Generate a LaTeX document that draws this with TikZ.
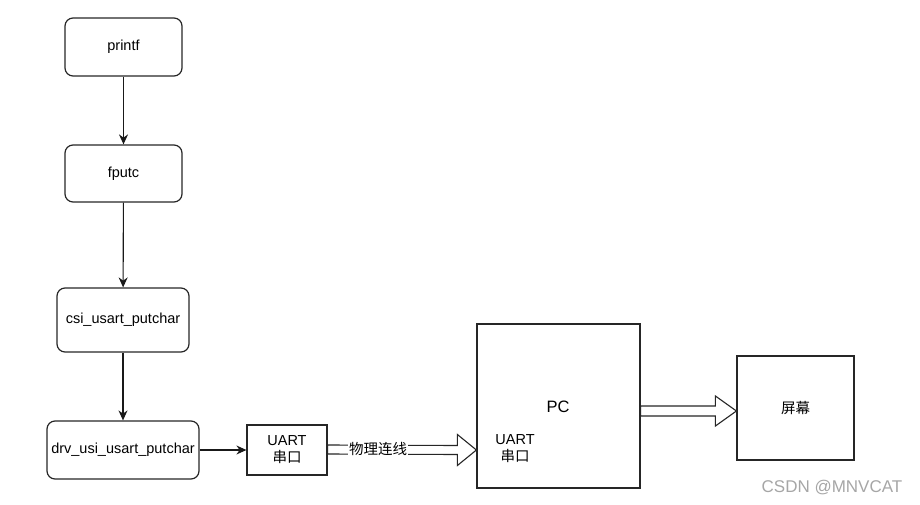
\documentclass[tikz,border=0pt]{standalone}
\usepackage{fontspec}
\setmainfont{Liberation Sans}
\newfontfamily\cjk{Noto Sans CJK SC}
\usetikzlibrary{arrows.meta,calc}
\begin{document}
\begin{tikzpicture}[x=1pt,y=-1pt,
  every node/.style={font=\fontsize{14.5pt}{17pt}\selectfont, text=black},
  rbox/.style={draw=black!85, line width=1.2pt, rounded corners=8pt, inner sep=0pt},
  sbox/.style={draw=black!85, line width=1.2pt, inner sep=0pt},
  conn/.style={draw=black!90, line width=1.1pt, -{Stealth[length=10pt,width=9pt]}},
  blockarrow/.style={draw=black!85, line width=1.1pt, fill=white, line join=miter}]
\useasboundingbox (0,0) rectangle (920,505);
\node[rbox, minimum width=117pt, minimum height=58pt] (printf) at (123.5,47) {printf};
\node[rbox, minimum width=117pt, minimum height=57pt] (fputc) at (123.5,173.5) {fputc};
\node[rbox, minimum width=132pt, minimum height=64pt] (csi) at (123,320) {csi\_usart\_putchar};
\node[rbox, minimum width=152pt, minimum height=58pt] (drv) at (123,450) {drv\_usi\_usart\_putchar};
\node[sbox, minimum width=80pt, minimum height=50pt, align=center] (uart) at (287,450) {UART\\{\cjk 串口}};
\node[sbox, minimum width=163pt, minimum height=164pt] (pc) at (558.5,406) {};
\node[font=\fontsize{16.5pt}{19pt}\selectfont] (pclabel) at (558,407) {PC};
\node[align=center] (pcuart) at (515,449) {UART\\{\cjk 串口}};
\node[sbox, minimum width=117pt, minimum height=104pt] (screen) at (795.5,408) {\cjk 屏幕};
\node[text=black!35, font=\fontsize{17pt}{19pt}\selectfont] (wm) at (832,488) {CSDN @MNVCAT};
\draw[conn] (printf) -- (fputc);
\draw[conn] (fputc) -- (csi);
\draw[conn] (csi) -- (drv);
\draw[conn] (drv) -- (uart);
% block arrow UART -> PC
\coordinate (a1s) at (uart.east |- 0,449.5);
\coordinate (a1t) at (pc.west |- 0,450);
\draw[blockarrow] ($(a1s)+(0,-4.5)$) -- ($(a1t)+(-19,-4.5)$) -- ($(a1t)+(-19,-15.5)$) -- (a1t)
  -- ($(a1t)+(-19,15.5)$) -- ($(a1t)+(-19,4.5)$) -- ($(a1s)+(0,4.5)$) -- cycle;
\node[fill=white, inner sep=1pt, font=\cjk\fontsize{14.5pt}{17pt}\selectfont] (link) at (378,449) {物理连线};
% block arrow PC -> screen
\coordinate (a2s) at (pc.east |- 0,411);
\coordinate (a2t) at (screen.west |- 0,411);
\draw[blockarrow] ($(a2s)+(0,-5)$) -- ($(a2t)+(-21,-5)$) -- ($(a2t)+(-21,-15)$) -- (a2t)
  -- ($(a2t)+(-21,15)$) -- ($(a2t)+(-21,5)$) -- ($(a2s)+(0,5)$) -- cycle;
\end{tikzpicture}
\end{document}
